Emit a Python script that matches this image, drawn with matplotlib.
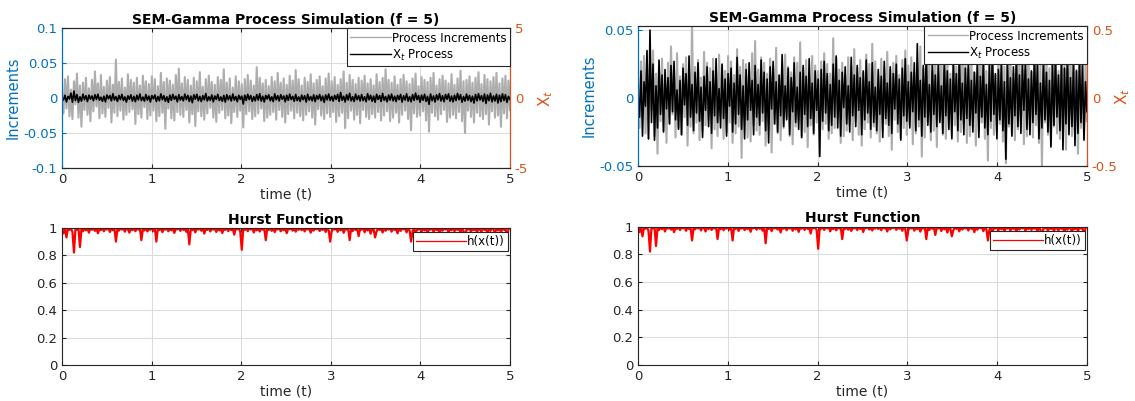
import matplotlib.pyplot as plt
import numpy as np

# increments (x 0.001), X_t process (x 0.01), Hurst function h(x(t)) (x 0.001)
incr_milli = [
    8, -22, 27, -15, 31, -26, 12, -30, 24, -9, 35, -28, 18, -41, 22, -17, 29, -24, 14, -33,
    26, -19, 38, -12, 21, -29, 33, -22, 16, -27, 25, -14, 30, -35, 19, -21, 55, -26, 23, -18,
    28, -31, 15, -24, 34, -20, 26, -16, 22, -37, 29, -23, 18, -28, 32, -13, 24, -30, 20, -25,
    31, -18, 27, -33, 17, -26, 36, -21, 23, -44, 28, -15, 25, -29, 19, -32, 33, -20, 42, -24,
    21, -27, 30, -17, 26, -35, 18, -23, 29, -40, 24, -19, 37, -26, 16, -31, 27, -22, 32, -14,
    23, -28, 19, -34, 30, -21, 26, -17, 41, -29, 22, -25, 28, -36, 15, -20, 31, -27, 24, -18,
    20, -42, 27, -23, 33, -19, 25, -30, 18, -26, 44, -22, 29, -15, 21, -33, 26, -28, 17, -24,
    30, -20, 24, -31, 36, -17, 22, -27, 28, -35, 19, -23, 32, -18, 25, -29, 40, -21, 27, -26,
    18, -32, 29, -24, 23, -19, 34, -28, 21, -38, 26, -16, 31, -25, 17, -30, 28, -22, 35, -27,
    24, -20, 30, -34, 19, -26, 27, -21, 38, -43, 22, -29, 33, -18, 26, -31, 20, -24, 29, -36,
    25, -17, 32, -27, 21, -30, 27, -23, 18, -28, 34, -20, 23, -32, 29, -25, 41, -19, 26, -33,
    22, -28, 31, -21, 19, -35, 27, -24, 33, -18, 24, -30, 20, -46, 28, -22, 35, -27, 17, -25,
    30, -19, 26, -32, 23, -48, 29, -21, 36, -26, 18, -31, 27, -23, 32, -17, 25, -34, 21, -28,
    34, -24, 19, -29, 28, -20, 39, -33, 24, -50, 26, -18, 31, -27, 22, -35, 29, -21, 37, -26,
    20, -30, 33, -23, 27, -38, 24, -19, 30, -28, 36, -25, 21, -41, 28, -22, 32, -29, 25, -17,
]

xt_centi = [
    3, -14, 20, -28, 12, -6, 35, -30, 50, -18, 25, -31, 9, -22, 28, -12, 17, -25, 21, -8,
    15, -19, 24, -10, 27, -16, 6, -23, 13, -27, 22, -5, 18, -20, 31, -14, 10, -24, 19, -11,
    26, -17, 8, -29, 16, -9, 23, -21, 12, -26, 20, -13, 29, -18, 7, -22, 25, -15, 14, -28,
    18, -6, 22, -25, 11, -19, 30, -12, 17, -23, 9, -30, 21, -16, 26, -9, 13, -27, 24, -14,
    10, -20, 28, -11, 19, -24, 14, -33, 23, -8, 27, -19, 12, -25, 17, -13, 32, -21, 9, -16,
    22, -27, 15, -10, 26, -18, 8, -23, 19, -29, 24, -12, 16, -21, 29, -15, 11, -26, 20, -9,
    14, -43, 21, -17, 27, -11, 18, -24, 10, -20, 25, -14, 31, -22, 13, -28, 19, -7, 23, -19,
    9, -25, 30, -13, 17, -21, 24, -9, 15, -27, 20, -16, 28, -11, 12, -23, 26, -18, 8, -24,
    21, -12, 16, -29, 27, -15, 11, -20, 23, -26, 18, -8, 25, -19, 14, -31, 22, -13, 29, -17,
    12, -22, 19, -10, 26, -24, 40, -16, 13, -28, 24, -14, 34, -20, 10, -25, 28, -12, 17, -21,
    25, -18, 9, -26, 31, -13, 20, -23, 14, -30, 27, -10, 18, -24, 33, -16, 11, -27, 22, -15,
    28, -20, 13, -25, 19, -11, 26, -29, 16, -14, 30, -22, 10, -27, 24, -17, 35, -12, 18, -30,
    21, -16, 27, -24, 12, -45, 29, -19, 15, -28, 23, -13, 32, -21, 17, -26, 25, -9, 30, -23,
    14, -27, 20, -18, 33, -12, 24, -30, 11, -22, 28, -16, 19, -25, 13, -36, 26, -20, 31, -14,
    17, -24, 29, -38, 22, -19, 34, -27, 15, -21, 27, -35, 20, -26, 30, -18, 24, -31, 12, -10,
]

hurst_milli = [
    998, 960, 993, 930, 999, 985, 996, 970, 820, 994, 988, 999, 860, 990, 975, 998, 982, 997, 965, 999,
    986, 995, 978, 999, 960, 992, 984, 998, 975, 996, 988, 999, 970, 994, 983, 997, 900, 991, 980, 999,
    987, 996, 972, 998, 990, 965, 997, 983, 999, 976, 993, 988, 998, 910, 995, 981, 999, 974, 992, 986,
    998, 979, 995, 900, 997, 984, 999, 969, 993, 987, 998, 975, 996, 982, 999, 963, 994, 989, 997, 978,
    999, 985, 992, 971, 998, 880, 995, 983, 999, 967, 996, 988, 993, 979, 998, 958, 997, 985, 999, 974,
    994, 987, 998, 970, 996, 981, 999, 962, 993, 986, 997, 976, 999, 984, 995, 950, 998, 989, 996, 973,
    840, 992, 985, 998, 976, 997, 988, 999, 966, 994, 982, 998, 973, 996, 987, 999, 910, 995, 984, 997,
    978, 999, 969, 993, 988, 998, 975, 996, 983, 999, 961, 995, 990, 997, 979, 998, 972, 994, 986, 999,
    983, 997, 974, 999, 988, 993, 965, 998, 980, 996, 990, 999, 977, 994, 985, 998, 970, 997, 983, 900,
    975, 995, 987, 998, 971, 996, 982, 999, 964, 993, 988, 997, 910, 998, 976, 995, 985, 999, 940, 994,
    987, 998, 968, 996, 981, 999, 957, 993, 989, 930, 974, 998, 984, 995, 966, 999, 979, 992, 988, 997,
    972, 999, 985, 994, 960, 998, 978, 996, 989, 999, 967, 995, 983, 900, 976, 998, 955, 993, 987, 999,
    973, 996, 981, 998, 962, 994, 987, 999, 970, 995, 984, 997, 958, 998, 979, 993, 988, 999, 966, 996,
    982, 998, 975, 994, 985, 999, 961, 996, 979, 910, 993, 988, 998, 969, 995, 983, 999, 964, 997, 986,
    972, 998, 985, 993, 955, 999, 978, 996, 989, 960, 997, 981, 999, 968, 994, 986, 998, 925, 993, 999,
]

t = np.linspace(0, 5, len(incr_milli))
increments = np.array(incr_milli) / 1000
xt = np.array(xt_centi) / 100
hurst = np.array(hurst_milli) / 1000

BLUE = '#0072BD'
ORANGE = '#D95319'
DARK = '#262626'
GRID = '#dcdcdc'

plt.rcParams['font.family'] = 'DejaVu Sans'
plt.rcParams['font.size'] = 9


def style_box(ax):
    ax.set_xlim(0, 5)
    ax.set_xticks(range(6))
    ax.tick_params(direction='in', length=3, colors=DARK, labelsize=9.5,
                   top=True, right=True)
    ax.grid(True, color=GRID, linewidth=0.8)
    ax.set_axisbelow(True)
    for s in ax.spines.values():
        s.set_color(DARK)
        s.set_linewidth(0.8)
    ax.set_xlabel('time (t)', color=DARK, fontsize=10, labelpad=1)


def plot_process(pos, ylim_l, yticks_l, ylabels_l, ylim_r, yticks_r, ylabels_r, xt_pad):
    ax = fig.add_axes(pos)
    style_box(ax)
    ax.tick_params(right=False)
    g, = ax.plot(t, increments, color='#adadad', linewidth=1.5,
                 label='Process Increments')
    ax.set_ylim(*ylim_l)
    ax.set_yticks(yticks_l)
    ax.set_yticklabels(ylabels_l)
    ax.tick_params(axis='y', colors=BLUE)
    ax.spines['left'].set_color(BLUE)
    ax.set_ylabel('Increments', color=BLUE, fontsize=10.5, labelpad=2)
    ax.set_title('SEM-Gamma Process Simulation (f = 5)', fontweight='bold',
                 fontsize=10, pad=3)

    ax2 = ax.twinx()
    k, = ax2.plot(t, xt, color='black', linewidth=1.2, label='X$_t$ Process')
    ax2.set_ylim(*ylim_r)
    ax2.set_yticks(yticks_r)
    ax2.set_yticklabels(ylabels_r)
    ax2.tick_params(axis='y', direction='in', length=3, colors=ORANGE, labelsize=9.5)
    ax2.spines['right'].set_color(ORANGE)
    ax2.spines['left'].set_color(BLUE)
    ax2.spines['top'].set_color(DARK)
    ax2.spines['bottom'].set_color(DARK)
    ax2.set_ylabel('X$_t$', color=ORANGE, fontsize=11, rotation=90, labelpad=xt_pad)
    leg = ax2.legend(handles=[g, k], loc='upper right', bbox_to_anchor=(1, 1),
                     borderaxespad=0, fontsize=8.5, handlelength=3.4,
                     handletextpad=0.1, borderpad=0.3, labelspacing=0.25,
                     fancybox=False, framealpha=1)
    leg.get_frame().set_edgecolor(DARK)
    leg.get_frame().set_linewidth(0.8)
    for line in leg.get_lines():
        line.set_linewidth(1.0)


def plot_hurst(pos):
    ax = fig.add_axes(pos)
    style_box(ax)
    ax.plot(t, hurst, color='red', linewidth=1.6, label='h(x(t))')
    ax.set_ylim(0, 1)
    ax.set_yticks([0, 0.2, 0.4, 0.6, 0.8, 1])
    ax.set_yticklabels(['0', '0.2', '0.4', '0.6', '0.8', '1'])
    ax.set_title('Hurst Function', fontweight='bold', fontsize=10, pad=3)
    leg = ax.legend(loc='upper right', bbox_to_anchor=(0.995, 0.97),
                    borderaxespad=0, fontsize=8.5, handlelength=4.2,
                    handletextpad=0.1, borderpad=0.25, fancybox=False,
                    framealpha=1)
    leg.get_frame().set_edgecolor(DARK)
    leg.get_frame().set_linewidth(0.8)
    for line in leg.get_lines():
        line.set_linewidth(0.9)


fig = plt.figure(figsize=(11.35, 4.01), dpi=100)

plot_process([0.0546, 0.581, 0.3947, 0.349], (-0.1, 0.1),
             [-0.1, -0.05, 0, 0.05, 0.1], ['-0.1', '-0.05', '0', '0.05', '0.1'],
             (-5, 5), [-5, 0, 5], ['-5', '0', '5'], 6)
plot_process([0.5621, 0.586, 0.3956, 0.349], (-0.05, 0.053),
             [-0.05, 0, 0.05], ['-0.05', '0', '0.05'],
             (-0.5, 0.53), [-0.5, 0, 0.5], ['-0.5', '0', '0.5'], -3)
plot_hurst([0.0546, 0.0898, 0.3947, 0.342])
plot_hurst([0.5621, 0.0898, 0.3956, 0.345])

plt.savefig('out.png', dpi=100)
